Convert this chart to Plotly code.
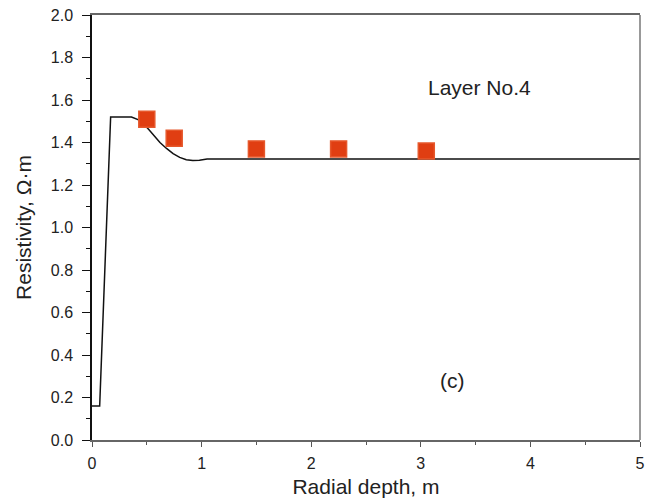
import plotly.graph_objects as go

# Modelled radial resistivity profile (solid line)
profile_depth = [0.0, 0.07, 0.17, 0.36, 0.42, 0.47, 0.52, 0.57, 0.62, 0.68, 0.74, 0.80,
                 0.86, 0.92, 0.98, 1.05, 5.0]
profile_rho = [0.16, 0.16, 1.52, 1.52, 1.508, 1.488, 1.46, 1.43, 1.40, 1.372, 1.348, 1.330,
               1.319, 1.315, 1.316, 1.322, 1.322]

# Measured points (markers)
meas_depth = [0.5, 0.75, 1.5, 2.25, 3.05]
meas_rho = [1.51, 1.42, 1.37, 1.37, 1.36]

font_family = "Liberation Sans, Arial, sans-serif"

fig = go.Figure()
fig.add_trace(go.Scatter(
    x=profile_depth, y=profile_rho, mode="lines",
    line=dict(color="#111", width=1.5),
    showlegend=False,
))
fig.add_trace(go.Scatter(
    x=meas_depth, y=meas_rho, mode="markers",
    marker=dict(symbol="square", size=16, color="#E03E12",
                line=dict(color="#E6582C", width=1.5)),
    showlegend=False,
))

fig.add_annotation(x=3.54, y=1.66, text="Layer No.4", showarrow=False,
                   font=dict(size=21, color="#222", family=font_family))
fig.add_annotation(x=3.29, y=0.28, text="(c)", showarrow=False,
                   font=dict(size=21, color="#222", family=font_family))

# right frame edge
fig.add_shape(type="line", xref="paper", yref="paper", x0=1, x1=1, y0=0, y1=1,
              line=dict(color="#777", width=1.5))

fig.update_layout(
    width=655, height=502,
    margin=dict(l=92, r=15, t=15, b=62),
    paper_bgcolor="white", plot_bgcolor="white",
    font=dict(family=font_family, size=16, color="#222"),
    xaxis=dict(
        range=[0, 5], dtick=1, tick0=0, showgrid=False, zeroline=False,
        showline=True, linecolor="#666", linewidth=1.5, mirror=True,
        ticks="outside", ticklen=5, tickcolor="#555", tickwidth=1,
        ticklabelstandoff=3, automargin=False,
        minor=dict(dtick=0.5, ticks="outside", ticklen=3, tickcolor="#555", showgrid=False),
        title=dict(text="Radial depth, m", font=dict(size=21), standoff=8),
        tickfont=dict(size=16),
    ),
    yaxis=dict(
        range=[0, 2], dtick=0.2, tick0=0, tickformat=".1f", showgrid=False, zeroline=False,
        showline=True, linecolor="#111", linewidth=1.5,
        ticks="outside", ticklen=8, tickcolor="#111", tickwidth=1,
        ticklabelstandoff=6, automargin=False,
        minor=dict(dtick=0.1, ticks="outside", ticklen=4, tickcolor="#111", showgrid=False),
        title=dict(text="Resistivity, Ω·m", font=dict(size=21), standoff=13),
        tickfont=dict(size=16),
    ),
)

fig.write_html("out.html")
